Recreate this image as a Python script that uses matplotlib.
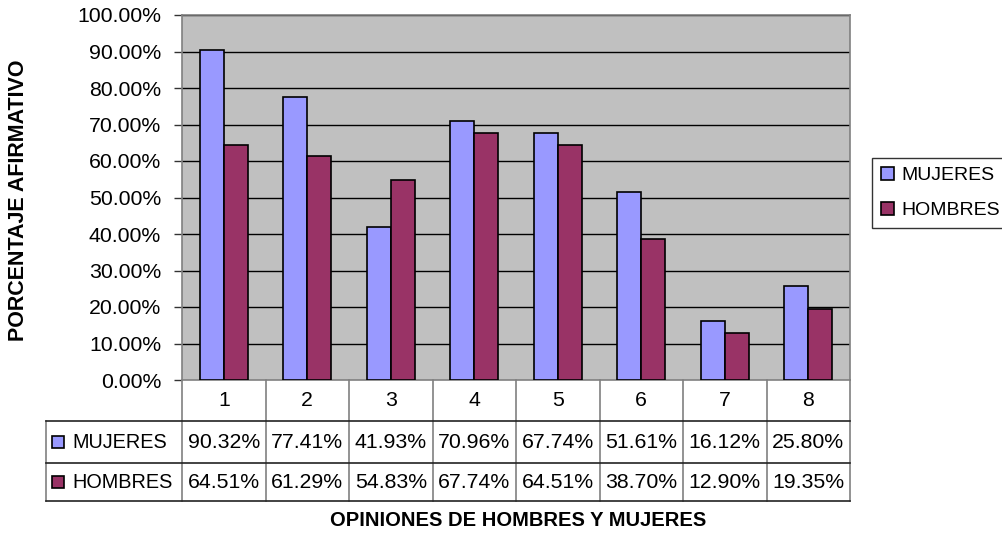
import matplotlib
matplotlib.use("Agg")
import matplotlib.pyplot as plt
from matplotlib.patches import Rectangle
from matplotlib.lines import Line2D

plt.rcParams['font.family'] = ['Liberation Sans', 'DejaVu Sans']

categories = ['1', '2', '3', '4', '5', '6', '7', '8']
series_names = ['MUJERES', 'HOMBRES']
mujeres = [90.32, 77.41, 41.93, 70.96, 67.74, 51.61, 16.12, 25.80]
hombres = [64.51, 61.29, 54.83, 67.74, 64.51, 38.70, 12.90, 19.35]
y_ticks = [0, 10, 20, 30, 40, 50, 60, 70, 80, 90, 100]

colors = ['#9999FF', '#993366']
series = [mujeres, hombres]

W, H = 1002, 533
fig = plt.figure(figsize=(W / 100, H / 100), dpi=100)
fig.patch.set_facecolor('white')

FS = 15.3


def px_rect(x0, y0, x1, y1):
    """Rectangle in pixel coords (top-left origin) -> figure fraction."""
    return [x0 / W, (H - y1) / H, (x1 - x0) / W, (y1 - y0) / H]


# main plot area
ax = fig.add_axes(px_rect(182, 15, 850, 380))
ax.set_facecolor('#C0C0C0')
n = len(categories)
bar_w = 1 / 3.5  # 150% gap width
for k, (vals, col) in enumerate(zip(series, colors)):
    xs = [i + 0.5 - bar_w + k * bar_w + bar_w / 2 for i in range(n)]
    ax.bar(xs, vals, width=bar_w, color=col, edgecolor='black',
           linewidth=1.2, zorder=3)

ax.set_xlim(0, n)
ax.set_ylim(0, 100)
ax.set_yticks(y_ticks)
ax.set_yticklabels([f'{t:.2f}%' for t in y_ticks])
ax.tick_params(axis='y', length=6, width=1, pad=9, labelsize=FS,
               color='#333333', direction='out')
ax.set_xticks([])
for t in y_ticks[1:]:
    ax.axhline(t, color='black', linewidth=1, zorder=1)
for s in ax.spines.values():
    s.set_color('#808080')
    s.set_linewidth(1.2)

# data table below the plot (y in pixel rows, top = 380)
tax = fig.add_axes(px_rect(46, 380, 850, 501))
left = -(182 - 46) / 83.5
tax.set_xlim(left, n)
row_edges = [380, 421, 463, 501]
tax.set_ylim(row_edges[-1], row_edges[0])
tax.axis('off')

vcol = '#808080'
hcol = '#222222'
for i in range(n + 1):
    tax.add_line(Line2D([i, i], [row_edges[0], row_edges[-1]], color=vcol,
                        lw=1.2, clip_on=False))
tax.add_line(Line2D([left, left], [row_edges[1], row_edges[-1]], color=vcol,
                    lw=1.2, clip_on=False))
for yy in row_edges[1:]:
    tax.add_line(Line2D([left, n], [yy, yy], color=hcol, lw=1.2,
                        clip_on=False))

hdr_y = (row_edges[0] + row_edges[1]) / 2
for i, c in enumerate(categories):
    tax.text(i + 0.5, hdr_y, c, ha='center', va='center', fontsize=FS)

for r, (name, vals, col) in enumerate(zip(series_names, series, colors)):
    yc = (row_edges[r + 1] + row_edges[r + 2]) / 2
    tax.add_patch(Rectangle((left + 0.075, yc - 6), 0.14, 12,
                            facecolor=col, edgecolor='black', lw=1.2,
                            clip_on=False))
    tax.text(left + 0.31, yc, name, ha='left', va='center', fontsize=14.3)
    for i, v in enumerate(vals):
        tax.text(i + 0.5, yc, f'{v:.2f}%', ha='center', va='center',
                 fontsize=FS)

# legend
handles = [Rectangle((0, 0), 1, 1, facecolor=c, edgecolor='black', lw=1.2)
           for c in colors]
leg = fig.legend(handles, series_names, loc='upper left',
                 bbox_to_anchor=(872 / W, 1 - 158 / H), fontsize=14,
                 frameon=True, fancybox=False, handlelength=0.7,
                 handleheight=0.7, handletextpad=0.35, labelspacing=0.9,
                 borderpad=0.45, borderaxespad=0)
leg.get_frame().set_edgecolor('black')
leg.get_frame().set_linewidth(1.0)

# axis titles
fig.text(19 / W, 1 - 200 / H, 'PORCENTAJE AFIRMATIVO', rotation=90,
         ha='center', va='center', fontsize=15.5, fontweight='bold')
fig.text(518 / W, 1 - 521 / H, 'OPINIONES DE HOMBRES Y MUJERES',
         ha='center', va='center', fontsize=14.5, fontweight='bold')

fig.savefig('out.png', dpi=100)
